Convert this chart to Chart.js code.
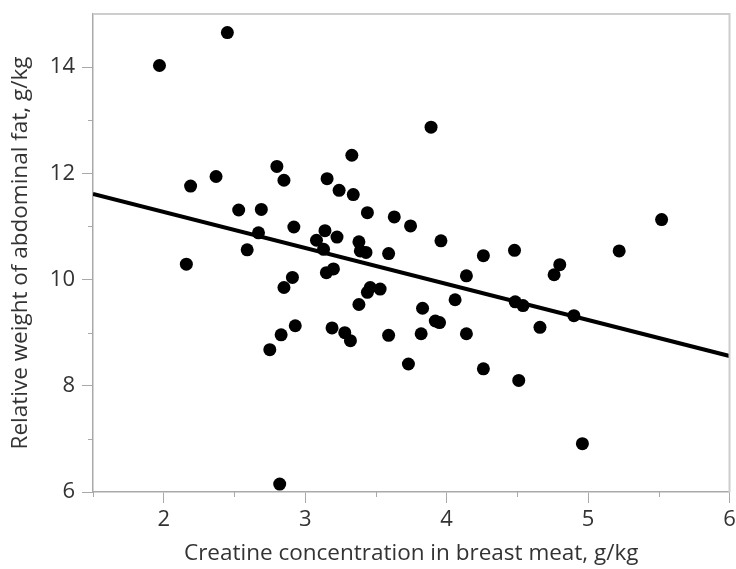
<!DOCTYPE html>
<html>
<head>
<meta charset="utf-8">
<script src="https://cdn.jsdelivr.net/npm/chart.js"></script>
<style>
  html, body { margin: 0; padding: 0; background: #fff; }
</style>
</head>
<body>
<canvas id="chart" width="736" height="569"></canvas>
<script>
// creatine in breast meat (g/kg) vs relative abdominal fat (g/kg)
const creatine = [
  1.97, 2.45, 2.19, 2.37, 2.16, 2.53, 2.69, 2.67, 2.59, 2.80,
  2.85, 2.92, 2.91, 2.85, 2.93, 2.83, 2.75, 2.82, 3.19, 3.28,
  3.32, 3.38, 3.155, 3.24, 3.34, 3.33, 3.44, 3.63, 3.745, 3.14,
  3.08, 3.225, 3.13, 3.38, 3.39, 3.43, 3.59, 3.15, 3.20, 3.46,
  3.44, 3.53, 3.59, 3.82, 3.89, 3.96, 4.26, 4.48, 4.14, 4.80,
  4.76, 5.22, 5.52, 3.83, 4.06, 3.92, 3.95, 4.14, 3.73, 4.26,
  4.51, 4.485, 4.54, 4.66, 4.90, 4.96
];
const abdominalFat = [
  14.03, 14.65, 11.76, 11.94, 10.29, 11.31, 11.32, 10.88, 10.56, 12.13,
  11.87, 10.99, 10.04, 9.85, 9.13, 8.96, 8.68, 6.15, 9.09, 9.00,
  8.85, 9.53, 11.90, 11.68, 11.60, 12.34, 11.26, 11.18, 11.01, 10.92,
  10.74, 10.80, 10.57, 10.71, 10.54, 10.51, 10.49, 10.13, 10.20, 9.85,
  9.76, 9.82, 8.95, 8.98, 12.87, 10.73, 10.45, 10.55, 10.07, 10.28,
  10.09, 10.54, 11.13, 9.46, 9.62, 9.22, 9.19, 8.98, 8.41, 8.32,
  8.10, 9.58, 9.51, 9.10, 9.32, 6.91
];

// fitted regression line ends
const fitX = [1.5, 6];
const fitY = [11.61, 8.56];

const xTicks = [2, 3, 4, 5, 6];
const yTicks = [6, 8, 10, 12, 14];
const xMinorTicks = [1.5, 2.5, 3.5, 4.5, 5.5];
const yMinorTicks = [7, 9, 11, 13];

const AXIS_GREY = '#a9a9a9';
const TEXT = '#333';
const tickFont = { family: 'Open Sans', size: 22 };
const titleFont = { family: 'Open Sans', size: 22.5 };

// light frame on top/right plus the short minor ticks
const framePlugin = {
  id: 'frame',
  afterDraw(chart) {
    const { ctx, chartArea: a, scales: { x, y } } = chart;
    ctx.save();
    ctx.strokeStyle = '#cdcdcd';
    ctx.lineWidth = 2;
    ctx.beginPath();
    ctx.moveTo(a.left, a.top);
    ctx.lineTo(a.right, a.top);
    ctx.lineTo(a.right, a.bottom);
    ctx.stroke();

    ctx.strokeStyle = AXIS_GREY;
    ctx.lineWidth = 1;
    ctx.beginPath();
    xMinorTicks.forEach(v => {
      const px = Math.round(x.getPixelForValue(v)) + 0.5;
      ctx.moveTo(px, a.bottom);
      ctx.lineTo(px, a.bottom + 5);
    });
    yMinorTicks.forEach(v => {
      const py = Math.round(y.getPixelForValue(v)) + 0.5;
      ctx.moveTo(a.left - 5, py);
      ctx.lineTo(a.left, py);
    });
    ctx.stroke();
    ctx.restore();
  }
};

new Chart(document.getElementById('chart'), {
  type: 'scatter',
  data: {
    datasets: [
      {
        data: creatine.map((c, i) => ({ x: c, y: abdominalFat[i] })),
        backgroundColor: '#000',
        borderWidth: 0,
        pointRadius: 6.5
      },
      {
        type: 'line',
        data: fitX.map((c, i) => ({ x: c, y: fitY[i] })),
        borderColor: '#000',
        borderWidth: 4,
        pointRadius: 0,
        fill: false
      }
    ]
  },
  options: {
    responsive: false,
    animation: false,
    devicePixelRatio: 1,
    layout: { padding: { top: 14, right: 5, left: 0, bottom: 0 } },
    plugins: { legend: { display: false }, tooltip: { enabled: false } },
    scales: {
      x: {
        type: 'linear',
        min: 1.5,
        max: 6,
        afterBuildTicks: s => { s.ticks = xTicks.map(v => ({ value: v })); },
        afterFit: s => { s.height = 77; s.paddingLeft = 0; s.paddingRight = 0; },
        ticks: { font: tickFont, color: TEXT, padding: 4, maxRotation: 0, autoSkip: false },
        grid: { drawOnChartArea: false, drawTicks: true, tickLength: 11, color: AXIS_GREY },
        border: { display: true, color: AXIS_GREY, width: 1.5, dash: [2, 1] },
        title: {
          display: true,
          text: 'Creatine concentration in breast meat, g/kg',
          font: titleFont,
          color: TEXT,
          padding: { top: 0, bottom: 2 }
        }
      },
      y: {
        type: 'linear',
        min: 6,
        max: 15,
        afterBuildTicks: s => { s.ticks = yTicks.map(v => ({ value: v })); },
        afterFit: s => { s.width = 93; s.paddingTop = 0; s.paddingBottom = 0; },
        ticks: { font: tickFont, color: TEXT, padding: 7 },
        grid: { drawOnChartArea: false, drawTicks: true, tickLength: 11, color: AXIS_GREY },
        border: { display: true, color: AXIS_GREY, width: 1.5, dash: [2, 1] },
        title: {
          display: true,
          text: 'Relative weight of abdominal fat, g/kg',
          font: titleFont,
          color: TEXT,
          padding: { top: 7, bottom: 0 }
        }
      }
    }
  },
  plugins: [framePlugin]
});
</script>
</body>
</html>
